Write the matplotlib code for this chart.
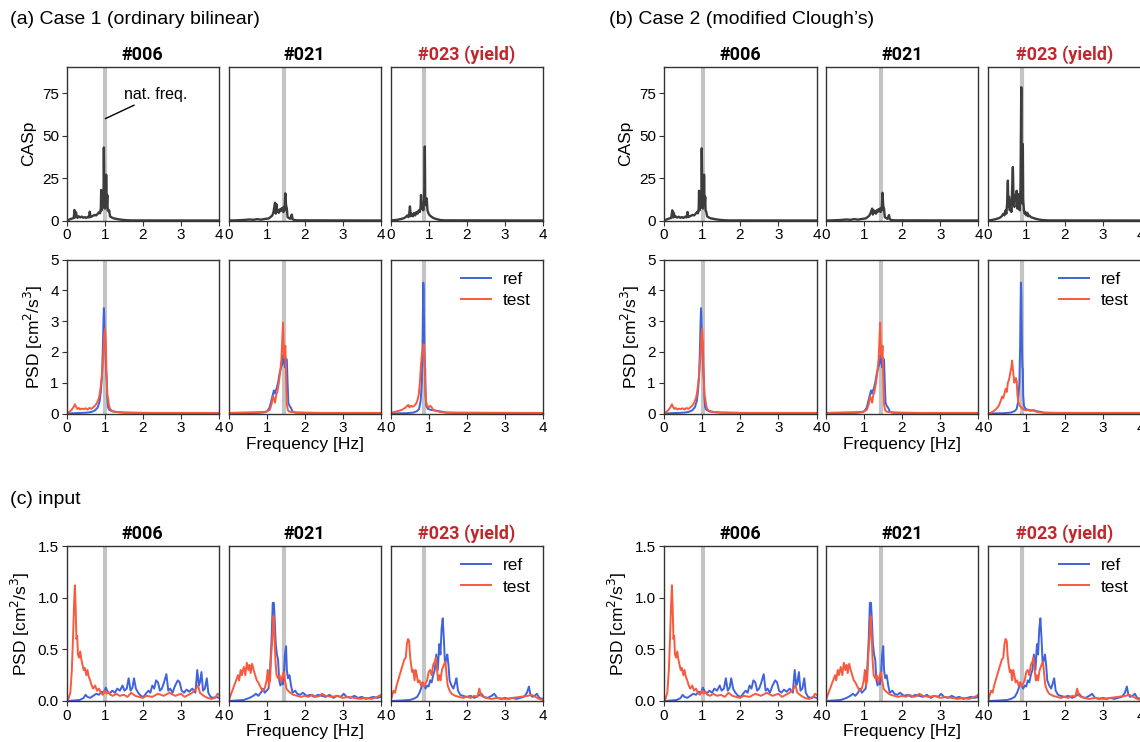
import numpy as np
import matplotlib
matplotlib.use('Agg')
import matplotlib.pyplot as plt

plt.rcParams['font.family'] = ['Liberation Sans', 'DejaVu Sans']

# natural frequencies of the three cases
cases = ['#006', '#021', '#023 (yield)']
title_colors = ['black', 'black', '#c0282d']
nat_freq = [1.02, 1.45, 0.88]

# CASp spectra (freq [Hz], CASp)
cas_a006 = [(0.00, 0.0), (0.05, 0.3), (0.10, 0.8), (0.15, 1.2), (0.19, 1.5), (0.21, 6.2), (0.23, 1.8), (0.25, 4.8),
            (0.27, 2.2), (0.29, 1.6), (0.32, 2.5), (0.36, 1.8), (0.40, 2.3), (0.44, 1.6), (0.48, 2.0), (0.52, 1.5),
            (0.56, 2.2), (0.59, 1.8), (0.61, 5.2), (0.63, 2.0), (0.66, 2.4), (0.70, 2.8), (0.74, 3.3), (0.78, 3.0),
            (0.82, 4.0), (0.86, 5.0), (0.88, 4.2), (0.90, 7.0), (0.91, 18.0), (0.92, 6.0), (0.93, 8.0), (0.95, 7.5),
            (0.96, 11.0), (0.97, 9.0), (0.98, 43.0), (0.99, 20.0), (1.00, 10.0), (1.01, 7.0), (1.02, 12.0),
            (1.03, 9.0), (1.04, 27.0), (1.05, 14.0), (1.06, 10.0), (1.07, 15.0), (1.08, 6.0), (1.10, 5.5),
            (1.12, 6.0), (1.14, 2.5), (1.17, 2.0), (1.20, 1.6), (1.25, 1.2), (1.30, 1.0), (1.35, 0.8), (1.40, 0.6),
            (1.50, 0.3), (1.60, 0.15), (1.70, 0.05), (4.00, 0.0)]
cas_a021 = [(0.00, 0.0), (0.20, 0.1), (0.40, 0.3), (0.55, 0.6), (0.65, 0.4), (0.75, 0.8), (0.85, 0.5), (0.95, 0.9),
            (1.05, 1.2), (1.10, 2.0), (1.15, 3.0), (1.18, 5.0), (1.22, 10.5), (1.24, 4.0), (1.26, 9.5), (1.28, 5.0),
            (1.30, 6.0), (1.32, 4.5), (1.34, 6.5), (1.36, 5.5), (1.38, 7.0), (1.40, 6.0), (1.42, 7.5), (1.44, 5.0),
            (1.46, 8.0), (1.47, 6.0), (1.49, 16.0), (1.51, 9.0), (1.53, 7.0), (1.55, 2.0), (1.58, 1.5), (1.62, 1.0),
            (1.66, 3.5), (1.68, 0.8), (1.72, 0.3), (1.80, 0.1), (4.00, 0.0)]
cas_a023 = [(0.00, 0.0), (0.10, 0.2), (0.20, 0.5), (0.30, 1.0), (0.36, 1.5), (0.40, 2.0), (0.44, 3.0), (0.47, 2.0),
            (0.49, 3.5), (0.51, 8.3), (0.53, 2.5), (0.56, 4.0), (0.59, 2.5), (0.62, 4.5), (0.65, 3.0), (0.68, 5.0),
            (0.71, 4.0), (0.74, 6.0), (0.77, 5.0), (0.79, 8.0), (0.80, 15.0), (0.82, 7.0), (0.84, 10.0), (0.86, 6.0),
            (0.88, 12.0), (0.89, 20.0), (0.90, 43.6), (0.91, 12.0), (0.93, 9.0), (0.95, 13.0), (0.97, 6.0),
            (1.00, 4.0), (1.03, 3.0), (1.06, 2.5), (1.10, 1.8), (1.15, 1.2), (1.20, 0.9), (1.25, 0.6), (1.30, 0.3),
            (1.40, 0.1), (4.00, 0.0)]
cas_b006 = [(0.00, 0.0), (0.05, 0.3), (0.10, 0.8), (0.15, 1.2), (0.20, 1.5), (0.23, 6.0), (0.25, 1.8), (0.27, 4.5),
            (0.29, 2.0), (0.32, 2.4), (0.36, 1.7), (0.40, 2.2), (0.44, 1.6), (0.48, 2.0), (0.52, 1.5), (0.56, 2.2),
            (0.60, 1.8), (0.63, 5.0), (0.65, 2.0), (0.68, 2.4), (0.72, 2.8), (0.76, 3.3), (0.80, 3.0), (0.84, 4.0),
            (0.88, 5.0), (0.90, 4.2), (0.92, 7.0), (0.93, 17.5), (0.94, 6.0), (0.95, 8.0), (0.97, 7.5), (0.98, 11.0),
            (0.99, 9.0), (1.00, 42.5), (1.01, 20.0), (1.02, 10.0), (1.03, 7.0), (1.04, 12.0), (1.05, 9.0),
            (1.06, 27.0), (1.07, 14.0), (1.08, 10.0), (1.09, 14.0), (1.10, 6.0), (1.12, 5.0), (1.14, 2.5),
            (1.17, 2.0), (1.20, 1.6), (1.25, 1.2), (1.30, 1.0), (1.35, 0.8), (1.40, 0.6), (1.50, 0.3), (1.60, 0.15),
            (1.70, 0.05), (4.00, 0.0)]
cas_b021 = [(0.00, 0.0), (0.20, 0.1), (0.40, 0.3), (0.55, 0.6), (0.65, 0.4), (0.75, 0.8), (0.85, 0.5), (0.95, 0.9),
            (1.05, 1.2), (1.10, 2.0), (1.15, 3.0), (1.18, 4.5), (1.22, 7.0), (1.24, 3.5), (1.26, 6.0), (1.28, 4.5),
            (1.30, 5.5), (1.32, 4.0), (1.34, 6.0), (1.36, 5.0), (1.38, 6.5), (1.40, 5.5), (1.42, 7.0), (1.44, 5.0),
            (1.46, 7.5), (1.47, 6.0), (1.49, 16.3), (1.51, 8.5), (1.53, 7.0), (1.55, 2.0), (1.58, 1.5), (1.62, 1.0),
            (1.66, 3.2), (1.68, 0.8), (1.72, 0.3), (1.80, 0.1), (4.00, 0.0)]
cas_b023 = [(0.00, 0.0), (0.10, 0.3), (0.20, 0.8), (0.30, 1.5), (0.36, 2.5), (0.40, 4.0), (0.43, 3.0), (0.46, 6.0),
            (0.48, 4.0), (0.50, 10.0), (0.52, 23.5), (0.53, 8.0), (0.55, 14.0), (0.57, 6.0), (0.59, 12.0),
            (0.61, 5.0), (0.63, 18.0), (0.65, 31.5), (0.67, 10.0), (0.69, 8.0), (0.71, 15.0), (0.73, 12.0),
            (0.75, 17.5), (0.77, 7.0), (0.79, 15.5), (0.81, 13.0), (0.83, 6.0), (0.85, 20.0), (0.87, 78.5),
            (0.88, 30.0), (0.90, 10.0), (0.91, 45.0), (0.92, 12.0), (0.94, 6.0), (0.96, 4.0), (0.98, 5.0),
            (1.00, 3.0), (1.03, 4.5), (1.05, 2.5), (1.08, 3.0), (1.12, 2.0), (1.18, 1.5), (1.25, 1.0), (1.35, 0.5),
            (1.45, 0.2), (1.60, 0.05), (4.00, 0.0)]

# PSD of response (freq [Hz], cm^2/s^3)
psd_006_ref = [(0.00, 0.0), (0.20, 0.01), (0.40, 0.02), (0.55, 0.03), (0.65, 0.05), (0.75, 0.1), (0.82, 0.2),
               (0.87, 0.4), (0.90, 0.7), (0.93, 1.2), (0.95, 2.0), (0.97, 3.0), (0.98, 3.42), (0.99, 3.2),
               (1.00, 2.6), (1.02, 2.0), (1.04, 1.4), (1.06, 1.0), (1.07, 0.5), (1.09, 0.2), (1.12, 0.12),
               (1.20, 0.07), (1.30, 0.05), (1.50, 0.03), (2.00, 0.02), (3.00, 0.01), (4.00, 0.01)]
psd_006_test = [(0.00, 0.0), (0.05, 0.03), (0.12, 0.1), (0.18, 0.2), (0.22, 0.3), (0.25, 0.22), (0.28, 0.15),
                (0.32, 0.18), (0.36, 0.13), (0.40, 0.16), (0.45, 0.14), (0.50, 0.17), (0.55, 0.13), (0.60, 0.18),
                (0.65, 0.15), (0.70, 0.2), (0.75, 0.25), (0.80, 0.35), (0.85, 0.5), (0.88, 0.7), (0.91, 1.0),
                (0.94, 1.4), (0.97, 2.0), (0.99, 2.5), (1.01, 2.75), (1.03, 2.3), (1.05, 1.2), (1.07, 0.6),
                (1.09, 0.5), (1.11, 0.3), (1.14, 0.15), (1.20, 0.08), (1.30, 0.05), (1.50, 0.03), (2.00, 0.02),
                (3.00, 0.02), (4.00, 0.02)]
psd_021_ref = [(0.00, 0.0), (0.40, 0.01), (0.80, 0.02), (0.95, 0.04), (1.02, 0.08), (1.08, 0.2), (1.12, 0.4),
               (1.16, 0.6), (1.19, 0.75), (1.21, 0.65), (1.23, 0.72), (1.26, 0.8), (1.30, 1.0), (1.34, 1.3),
               (1.38, 1.5), (1.41, 1.6), (1.44, 1.9), (1.46, 1.7), (1.48, 1.5), (1.50, 1.8), (1.53, 1.75),
               (1.55, 1.0), (1.57, 0.35), (1.60, 0.25), (1.64, 0.18), (1.68, 0.06), (1.75, 0.03), (2.00, 0.02),
               (3.00, 0.01), (4.00, 0.01)]
psd_021_test = [(0.00, 0.02), (0.30, 0.03), (0.60, 0.04), (0.90, 0.05), (1.00, 0.06), (1.08, 0.12), (1.13, 0.3),
                (1.17, 0.55), (1.20, 0.45), (1.22, 0.35), (1.25, 0.6), (1.28, 0.7), (1.32, 1.0), (1.36, 1.4),
                (1.39, 1.8), (1.41, 2.4), (1.43, 2.95), (1.45, 2.0), (1.47, 1.8), (1.49, 2.2), (1.51, 1.2),
                (1.53, 0.3), (1.56, 0.1), (1.60, 0.06), (1.80, 0.03), (2.50, 0.02), (4.00, 0.02)]
psd_023_ref = [(0.00, 0.0), (0.40, 0.01), (0.60, 0.03), (0.70, 0.08), (0.75, 0.15), (0.79, 0.4), (0.82, 1.0),
               (0.84, 2.2), (0.85, 3.3), (0.86, 4.25), (0.87, 4.0), (0.88, 3.0), (0.89, 2.0), (0.90, 1.5),
               (0.91, 1.45), (0.92, 0.6), (0.94, 0.25), (0.98, 0.15), (1.05, 0.12), (1.15, 0.1), (1.25, 0.08),
               (1.35, 0.06), (1.45, 0.03), (1.70, 0.02), (4.00, 0.01)]
psd_a023_test = [(0.00, 0.02), (0.10, 0.05), (0.20, 0.08), (0.30, 0.12), (0.38, 0.18), (0.44, 0.25), (0.47, 0.28),
                 (0.50, 0.2), (0.54, 0.25), (0.58, 0.22), (0.62, 0.25), (0.66, 0.3), (0.70, 0.4), (0.74, 0.6),
                 (0.77, 1.0), (0.80, 1.6), (0.83, 2.0), (0.85, 1.95), (0.87, 2.25), (0.89, 1.8), (0.91, 0.9),
                 (0.93, 0.4), (0.96, 0.25), (1.00, 0.2), (1.04, 0.25), (1.08, 0.2), (1.12, 0.12), (1.20, 0.08),
                 (1.30, 0.05), (1.50, 0.03), (4.00, 0.02)]
psd_b023_test = [(0.00, 0.0), (0.08, 0.03), (0.15, 0.08), (0.22, 0.15), (0.28, 0.25), (0.33, 0.4), (0.37, 0.55),
                 (0.40, 0.5), (0.43, 0.65), (0.46, 0.8), (0.49, 0.7), (0.52, 1.0), (0.55, 1.1), (0.58, 1.3),
                 (0.61, 1.5), (0.63, 1.72), (0.65, 1.45), (0.67, 1.2), (0.69, 1.0), (0.71, 1.12), (0.73, 1.15),
                 (0.75, 1.05), (0.77, 0.6), (0.80, 0.35), (0.83, 0.25), (0.87, 0.2), (0.91, 0.15), (0.95, 0.12),
                 (1.00, 0.1), (1.05, 0.12), (1.10, 0.08), (1.15, 0.1), (1.20, 0.12), (1.25, 0.06), (1.35, 0.04),
                 (1.50, 0.02), (4.00, 0.02)]

# PSD of input motion
in006_ref = [(0.00, 0.0), (0.20, 0.005), (0.35, 0.01), (0.45, 0.03), (0.50, 0.06), (0.55, 0.04), (0.62, 0.03),
             (0.70, 0.05), (0.78, 0.07), (0.85, 0.06), (0.92, 0.09), (0.98, 0.08), (1.03, 0.13), (1.08, 0.09),
             (1.13, 0.07), (1.20, 0.1), (1.27, 0.08), (1.33, 0.12), (1.40, 0.1), (1.47, 0.15), (1.52, 0.1),
             (1.58, 0.12), (1.63, 0.22), (1.68, 0.1), (1.73, 0.13), (1.77, 0.22), (1.82, 0.12), (1.88, 0.08),
             (1.95, 0.05), (2.02, 0.04), (2.08, 0.07), (2.15, 0.1), (2.20, 0.08), (2.25, 0.15), (2.30, 0.12),
             (2.35, 0.2), (2.40, 0.18), (2.45, 0.1), (2.50, 0.12), (2.55, 0.17), (2.62, 0.26), (2.67, 0.1),
             (2.72, 0.12), (2.78, 0.08), (2.85, 0.15), (2.92, 0.2), (2.97, 0.18), (3.02, 0.1), (3.08, 0.08),
             (3.15, 0.11), (3.22, 0.09), (3.30, 0.12), (3.38, 0.08), (3.43, 0.3), (3.47, 0.15), (3.50, 0.18),
             (3.54, 0.28), (3.58, 0.1), (3.63, 0.12), (3.68, 0.22), (3.72, 0.08), (3.78, 0.04), (3.85, 0.03),
             (3.92, 0.04), (4.00, 0.03)]
in006_test = [(0.00, 0.0), (0.05, 0.02), (0.10, 0.08), (0.14, 0.3), (0.17, 0.6), (0.20, 0.95), (0.22, 1.12),
              (0.24, 0.9), (0.26, 0.6), (0.28, 0.63), (0.30, 0.45), (0.33, 0.42), (0.36, 0.48), (0.39, 0.4),
              (0.42, 0.35), (0.45, 0.3), (0.48, 0.32), (0.52, 0.25), (0.55, 0.3), (0.58, 0.24), (0.62, 0.2),
              (0.66, 0.15), (0.70, 0.12), (0.75, 0.15), (0.80, 0.1), (0.85, 0.12), (0.90, 0.08), (0.95, 0.06),
              (1.00, 0.1), (1.05, 0.07), (1.10, 0.09), (1.15, 0.06), (1.22, 0.05), (1.30, 0.07), (1.40, 0.05),
              (1.50, 0.06), (1.60, 0.04), (1.70, 0.08), (1.80, 0.05), (1.90, 0.04), (2.00, 0.03), (2.10, 0.05),
              (2.25, 0.04), (2.40, 0.07), (2.55, 0.05), (2.70, 0.08), (2.85, 0.05), (3.00, 0.07), (3.10, 0.04),
              (3.20, 0.06), (3.30, 0.08), (3.40, 0.12), (3.45, 0.15), (3.50, 0.08), (3.60, 0.05), (3.70, 0.03),
              (3.80, 0.02), (3.90, 0.03), (3.96, 0.07), (4.00, 0.06)]
in021_ref = [(0.00, 0.0), (0.20, 0.005), (0.40, 0.01), (0.55, 0.03), (0.65, 0.05), (0.72, 0.07), (0.78, 0.05),
             (0.85, 0.08), (0.90, 0.12), (0.95, 0.08), (1.00, 0.1), (1.05, 0.12), (1.09, 0.3), (1.13, 0.6),
             (1.16, 0.95), (1.19, 0.95), (1.21, 0.8), (1.24, 0.55), (1.27, 0.45), (1.30, 0.4), (1.33, 0.2),
             (1.36, 0.15), (1.39, 0.22), (1.42, 0.16), (1.45, 0.25), (1.48, 0.45), (1.51, 0.53), (1.53, 0.3),
             (1.56, 0.22), (1.60, 0.25), (1.64, 0.15), (1.68, 0.08), (1.75, 0.1), (1.80, 0.07), (1.88, 0.06),
             (1.95, 0.08), (2.05, 0.05), (2.15, 0.06), (2.25, 0.04), (2.35, 0.06), (2.45, 0.05), (2.55, 0.04),
             (2.65, 0.06), (2.75, 0.03), (2.85, 0.05), (2.95, 0.04), (3.02, 0.07), (3.10, 0.04), (3.20, 0.03),
             (3.30, 0.05), (3.40, 0.03), (3.50, 0.04), (3.60, 0.02), (3.70, 0.03), (3.80, 0.04), (3.90, 0.03),
             (4.00, 0.04)]
in021_test = [(0.00, 0.0), (0.05, 0.05), (0.10, 0.1), (0.15, 0.15), (0.20, 0.2), (0.25, 0.25), (0.28, 0.2),
              (0.32, 0.3), (0.35, 0.25), (0.40, 0.33), (0.44, 0.25), (0.48, 0.37), (0.52, 0.3), (0.55, 0.35),
              (0.58, 0.27), (0.62, 0.36), (0.66, 0.3), (0.70, 0.25), (0.74, 0.2), (0.78, 0.18), (0.82, 0.15),
              (0.86, 0.12), (0.90, 0.1), (0.95, 0.12), (1.00, 0.2), (1.03, 0.3), (1.06, 0.15), (1.09, 0.2),
              (1.12, 0.45), (1.15, 0.6), (1.18, 0.82), (1.20, 0.7), (1.23, 0.4), (1.26, 0.25), (1.30, 0.22),
              (1.34, 0.25), (1.38, 0.18), (1.42, 0.25), (1.45, 0.28), (1.48, 0.2), (1.52, 0.12), (1.56, 0.1),
              (1.62, 0.08), (1.70, 0.06), (1.80, 0.05), (1.90, 0.04), (2.00, 0.05), (2.10, 0.04), (2.20, 0.06),
              (2.30, 0.04), (2.40, 0.05), (2.45, 0.07), (2.55, 0.05), (2.70, 0.04), (2.85, 0.05), (3.00, 0.03),
              (3.15, 0.04), (3.30, 0.03), (3.45, 0.02), (3.60, 0.03), (3.75, 0.02), (3.90, 0.04), (4.00, 0.06)]
in023_ref = [(0.00, 0.0), (0.30, 0.005), (0.50, 0.01), (0.60, 0.02), (0.70, 0.04), (0.76, 0.08), (0.80, 0.12),
             (0.84, 0.18), (0.88, 0.15), (0.92, 0.12), (0.96, 0.15), (1.00, 0.14), (1.04, 0.2), (1.08, 0.18),
             (1.12, 0.25), (1.16, 0.3), (1.20, 0.45), (1.24, 0.3), (1.28, 0.55), (1.31, 0.45), (1.34, 0.7),
             (1.37, 0.8), (1.40, 0.6), (1.43, 0.35), (1.46, 0.4), (1.49, 0.45), (1.52, 0.35), (1.55, 0.2),
             (1.60, 0.15), (1.65, 0.12), (1.70, 0.18), (1.73, 0.22), (1.77, 0.1), (1.83, 0.06), (1.90, 0.05),
             (2.00, 0.04), (2.10, 0.05), (2.20, 0.03), (2.30, 0.05), (2.38, 0.07), (2.45, 0.04), (2.55, 0.03),
             (2.65, 0.05), (2.72, 0.07), (2.80, 0.03), (2.90, 0.02), (3.00, 0.03), (3.10, 0.02), (3.20, 0.03),
             (3.30, 0.02), (3.40, 0.03), (3.50, 0.04), (3.58, 0.08), (3.63, 0.14), (3.67, 0.06), (3.72, 0.04),
             (3.78, 0.05), (3.84, 0.07), (3.90, 0.03), (4.00, 0.02)]
in023_test = [(0.00, 0.0), (0.04, 0.05), (0.08, 0.1), (0.12, 0.08), (0.16, 0.15), (0.20, 0.2), (0.24, 0.25),
              (0.28, 0.3), (0.32, 0.35), (0.36, 0.4), (0.40, 0.42), (0.43, 0.55), (0.46, 0.6), (0.49, 0.58),
              (0.51, 0.45), (0.54, 0.35), (0.57, 0.28), (0.60, 0.3), (0.63, 0.2), (0.66, 0.3), (0.69, 0.25),
              (0.72, 0.18), (0.76, 0.2), (0.80, 0.15), (0.84, 0.18), (0.88, 0.14), (0.92, 0.17), (0.96, 0.2),
              (1.00, 0.28), (1.04, 0.3), (1.08, 0.25), (1.12, 0.35), (1.16, 0.38), (1.19, 0.42), (1.22, 0.3),
              (1.25, 0.2), (1.28, 0.25), (1.31, 0.2), (1.35, 0.3), (1.40, 0.35), (1.44, 0.38), (1.47, 0.25),
              (1.50, 0.15), (1.55, 0.1), (1.60, 0.07), (1.70, 0.05), (1.80, 0.04), (1.90, 0.03), (2.00, 0.04),
              (2.10, 0.03), (2.20, 0.05), (2.28, 0.04), (2.33, 0.12), (2.38, 0.05), (2.50, 0.03), (2.65, 0.02),
              (2.80, 0.03), (3.00, 0.02), (3.20, 0.03), (3.40, 0.04), (3.60, 0.05), (3.70, 0.06), (3.80, 0.04),
              (3.90, 0.02), (4.00, 0.01)]

C_REF = '#3f63dc'
C_TEST = '#f85a3e'
C_NAT = '#c4c4c4'
C_SPINE = '#333333'

W, H = 1140, 742
fig = plt.figure(figsize=(W / 100, H / 100), dpi=100)


def add_ax(left, top, w, h):
    return fig.add_axes([left / W, 1 - (top + h) / H, w / W, h / H])


def style(ax, ylim, yticks, showy):
    ax.set_xlim(0, 4)
    ax.set_ylim(*ylim)
    ax.set_xticks([0, 1, 2, 3, 4])
    ax.set_yticks(yticks)
    for s in ax.spines.values():
        s.set_color(C_SPINE)
        s.set_linewidth(1.0)
    ax.tick_params(direction='out', length=3.5, width=0.8, color=C_SPINE, labelsize=11, pad=2)
    ax.tick_params(axis='y', right=False)
    ax.tick_params(axis='x', top=False)
    if not showy:
        ax.set_yticks([])


def xy(pairs):
    a = np.array(pairs)
    return a[:, 0], a[:, 1]


groups = [
    dict(lefts=[66.5, 228.5, 390.5], w=152.5, label='(a) Case 1 (ordinary bilinear)', lx=10,
         cas=[cas_a006, cas_a021, cas_a023],
         psd=[(psd_006_ref, psd_006_test), (psd_021_ref, psd_021_test), (psd_023_ref, psd_a023_test)]),
    dict(lefts=[663.5, 825.5, 988.0], w=153, label='(b) Case 2 (modified Clough\u2019s)', lx=609,
         cas=[cas_b006, cas_b021, cas_b023],
         psd=[(psd_006_ref, psd_006_test), (psd_021_ref, psd_021_test), (psd_023_ref, psd_b023_test)]),
]
inputs = [(in006_ref, in006_test), (in021_ref, in021_test), (in023_ref, in023_test)]

psd_label = 'PSD [cm$^2$/s$^3$]'
TITLE_KW = dict(fontfamily='Roboto', fontweight='bold', fontsize=13, pad=5)
LEG_KW = dict(loc='upper right', frameon=False, fontsize=12.5, handlelength=1.7,
              borderaxespad=0.3, handletextpad=0.7, labelspacing=0.35)

for gi, g in enumerate(groups):
    fig.text(g['lx'] / W, 1 - 20 / H, g['label'], fontsize=14, va='center', ha='left')
    for k in range(3):
        L = g['lefts'][k]
        # CASp row
        ax = add_ax(L, 66.5, g['w'], 154)
        ax.axvline(nat_freq[k], color=C_NAT, lw=3, zorder=0)
        f, v = xy(g['cas'][k])
        ax.plot(f, v, color='#3c3c3c', lw=1.7)
        style(ax, (0, 90.7), [0, 25, 50, 75], k == 0)
        ax.set_title(cases[k], color=title_colors[k], **TITLE_KW)
        if k == 0:
            ax.set_ylabel('CASp', fontsize=12.5)
            if gi == 0:
                ax.annotate('nat. freq.', xy=(1.02, 60), xytext=(1.52, 74), fontsize=11.5,
                            va='center', ha='left',
                            arrowprops=dict(arrowstyle='-', color='black', lw=1.0, shrinkA=0, shrinkB=0))
        # PSD row
        ax = add_ax(L, 259.5, g['w'], 154)
        ax.axvline(nat_freq[k], color=C_NAT, lw=3, zorder=0)
        rf, rv = xy(g['psd'][k][0])
        tf, tv = xy(g['psd'][k][1])
        ax.plot(rf, rv, color=C_REF, lw=1.4, label='ref')
        ax.plot(tf, tv, color=C_TEST, lw=1.4, label='test')
        style(ax, (0, 5), [0, 1, 2, 3, 4, 5], k == 0)
        if k == 0:
            ax.set_ylabel(psd_label, fontsize=12.5)
        if k == 1:
            ax.set_xlabel('Frequency [Hz]', fontsize=12.5, labelpad=1)
        if k == 2:
            ax.legend(**LEG_KW)
        # input row
        ax = add_ax(L, 546, g['w'], 155)
        ax.axvline(nat_freq[k], color=C_NAT, lw=3, zorder=0)
        rf, rv = xy(inputs[k][0])
        tf, tv = xy(inputs[k][1])
        ax.plot(rf, rv, color=C_REF, lw=1.4, label='ref')
        ax.plot(tf, tv, color=C_TEST, lw=1.4, label='test')
        style(ax, (0, 1.5), [0.0, 0.5, 1.0, 1.5], k == 0)
        if k == 0:
            ax.set_yticklabels(['0.0', '0.5', '1.0', '1.5'])
            ax.set_ylabel(psd_label, fontsize=12.5)
        ax.set_title(cases[k], color=title_colors[k], **TITLE_KW)
        if k == 1:
            ax.set_xlabel('Frequency [Hz]', fontsize=12.5, labelpad=1)
        if k == 2:
            ax.legend(**LEG_KW)

fig.text(10 / W, 1 - 500 / H, '(c) input', fontsize=14, va='center', ha='left')

fig.savefig('out.png', dpi=100)
